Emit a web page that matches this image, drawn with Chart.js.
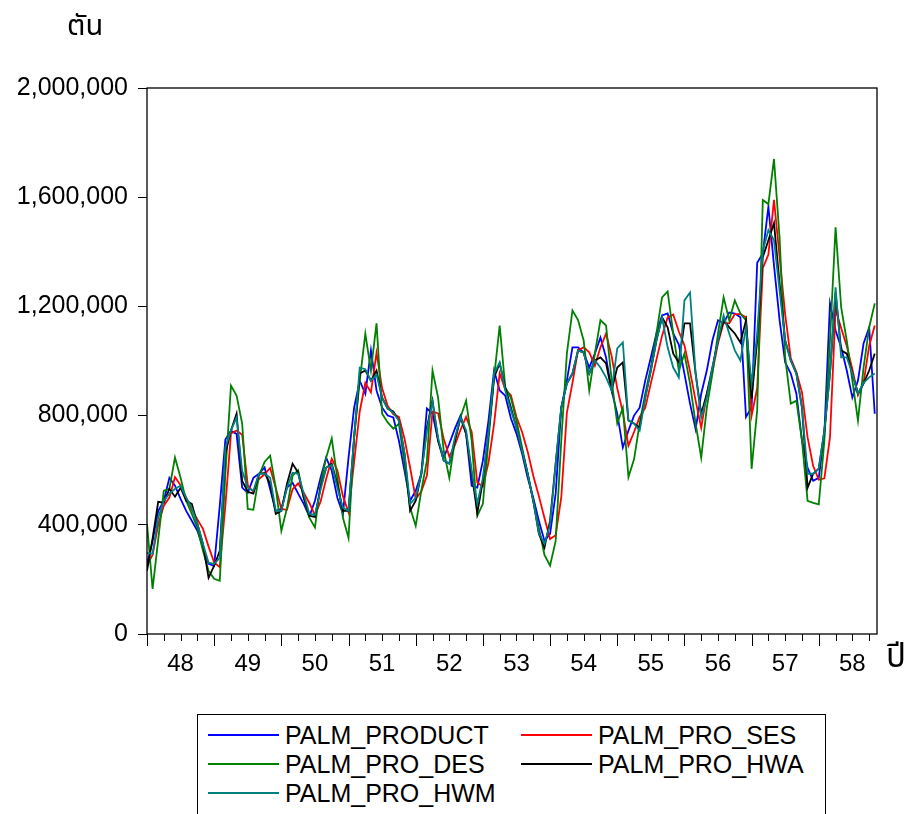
<!DOCTYPE html>
<html>
<head>
<meta charset="utf-8">
<script src="https://cdn.jsdelivr.net/npm/chart.js@4.4.1/dist/chart.umd.min.js"></script>
<style>
  html, body { margin: 0; padding: 0; background: #fff; }
  body { width: 915px; height: 814px; overflow: hidden; position: relative; font-family: Arial, "Liberation Sans", sans-serif; }
  canvas { position: absolute; left: 0; top: 0; }
  .unit { position: absolute; color: #000; font-family: "Noto Sans Thai", "Tahoma", "DejaVu Sans", "Noto Sans", sans-serif; line-height: 1; }
  #legend { position: absolute; left: 197px; top: 714px; width: 629px; height: 120px; border: 1px solid #000; box-sizing: border-box; background: #fff; }
  .item { position: absolute; height: 28px; }
  .item .ln { position: absolute; top: 12px; width: 71px; height: 0; border-top: 2px solid; }
  .item .tx { position: absolute; left: 77px; top: -1px; font-size: 25px; line-height: 28px; white-space: nowrap; color: #000; }
</style>
</head>
<body>
<canvas id="c" width="915" height="814"></canvas>
<div class="unit" style="left:67px;top:12px;font-size:29px;">ตัน</div>
<div class="unit" style="left:886px;top:641px;font-size:33px;">ปี</div>
<div id="legend"></div>
<script>
// ---- data (monthly, Jan 2548 .. Nov 2558) ----
const yearLabels = ['48','49','50','51','52','53','54','55','56','57','58'];
const yTicks = [0, 400000, 800000, 1200000, 1600000, 2000000];
const seriesNames = ['PALM_PRODUCT','PALM_PRO_SES','PALM_PRO_DES','PALM_PRO_HWA','PALM_PRO_HWM'];

const palmProduct = [
 256000,340000,450000,488000,572000,543000,495000,451000,415000,378000,
 316000,257000,250000,470000,712000,745000,733000,536000,517000,572000,
 587000,610000,530000,451000,458000,536000,554000,514000,477000,430000,
 488000,572000,646000,598000,499000,440000,646000,829000,928000,880000,
 1039000,892000,829000,800000,793000,708000,598000,488000,525000,587000,
 826000,807000,708000,646000,697000,752000,800000,734000,543000,536000,
 635000,782000,965000,892000,873000,790000,734000,661000,572000,499000,
 415000,341000,367000,514000,829000,928000,1050000,1050000,1031000,976000,
 1027000,1086000,1013000,892000,807000,683000,745000,800000,829000,928000,
 1013000,1101000,1167000,1174000,1101000,1060000,954000,844000,750000,880000,
 965000,1075000,1149000,1138000,1178000,1174000,1160000,795000,830000,1360000,
 1394000,1565000,1350000,1150000,995000,954000,880000,708000,609000,561000,
 572000,734000,1211000,1112000,1050000,965000,866000,928000,1064000,1123000,
 807000];

const palmProSes = [
 250000,290000,400000,470000,500000,575000,545000,500000,455000,420000,
 385000,320000,262000,245000,470000,735000,745000,730000,545000,520000,
 568000,585000,608000,535000,458000,455000,530000,552000,518000,480000,
 435000,485000,568000,642000,600000,505000,445000,630000,815000,920000,
 885000,1030000,900000,835000,805000,795000,715000,610000,495000,522000,
 580000,815000,808000,715000,650000,692000,748000,795000,740000,555000,
 540000,628000,770000,955000,895000,875000,795000,740000,668000,580000,
 505000,425000,348000,362000,500000,810000,920000,1040000,1050000,1032000,
 982000,1050000,1100000,1018000,900000,812000,690000,740000,795000,828000,
 918000,1005000,1092000,1160000,1170000,1108000,1058000,962000,855000,755000,
 880000,960000,1065000,1140000,1138000,1172000,1172000,1160000,800000,900000,
 1340000,1390000,1590000,1380000,1170000,1010000,960000,885000,720000,615000,
 565000,570000,720000,1190000,1120000,1055000,970000,875000,920000,1055000,
 1130000];

const palmProDes = [
 404000,165000,345000,525000,532000,646000,572000,488000,440000,389000,
 305000,231000,202000,195000,587000,910000,873000,771000,458000,455000,
 580000,630000,653000,536000,378000,460000,580000,600000,499000,426000,
 390000,550000,646000,716000,572000,426000,352000,720000,928000,1100000,
 965000,1138000,807000,775000,752000,770000,624000,462000,396000,525000,
 635000,965000,866000,672000,572000,708000,793000,855000,708000,433000,
 477000,708000,940000,1130000,903000,865000,782000,683000,587000,488000,
 389000,290000,250000,341000,708000,1027000,1185000,1150000,1075000,892000,
 1027000,1150000,1130000,928000,771000,829000,575000,640000,771000,880000,
 976000,1101000,1233000,1255000,1101000,965000,1027000,917000,771000,646000,
 829000,954000,1101000,1233000,1149000,1222000,1174000,1149000,605000,820000,
 1590000,1575000,1740000,1450000,1013000,844000,855000,708000,488000,480000,
 475000,708000,1075000,1490000,1196000,1075000,928000,782000,976000,1123000,
 1211000];

const palmProHwa = [
 231000,350000,484000,481000,532000,503000,536000,488000,477000,404000,
 330000,206000,250000,305000,661000,745000,807000,561000,521000,514000,
 587000,590000,550000,440000,451000,550000,624000,591000,499000,433000,
 429000,536000,609000,624000,550000,451000,451000,720000,954000,965000,
 928000,965000,866000,825000,815000,782000,661000,451000,488000,587000,
 756000,855000,708000,635000,624000,708000,793000,734000,587000,444000,
 561000,734000,940000,991000,903000,830000,756000,672000,587000,488000,
 367000,316000,415000,624000,829000,917000,954000,1039000,1031000,954000,
 1002000,1013000,991000,892000,976000,995000,782000,771000,756000,866000,
 965000,1075000,1160000,1123000,1027000,995000,1138000,1138000,954000,807000,
 880000,976000,1075000,1149000,1123000,1101000,1068000,1149000,862000,1075000,
 1380000,1442000,1505000,1284000,1075000,1002000,954000,829000,536000,587000,
 606000,745000,954000,1250000,1039000,1027000,954000,880000,917000,965000,
 1027000];

const palmProHwm = [
 297000,294000,426000,488000,514000,532000,543000,499000,462000,404000,
 330000,261000,257000,279000,683000,745000,793000,598000,536000,525000,
 587000,587000,572000,451000,451000,536000,591000,587000,514000,440000,
 436000,528000,609000,620000,536000,462000,451000,720000,976000,970000,
 928000,950000,866000,826000,810000,782000,661000,477000,499000,587000,
 745000,851000,719000,635000,624000,719000,793000,745000,598000,477000,
 572000,734000,954000,995000,892000,820000,756000,672000,587000,488000,
 370000,330000,400000,624000,829000,917000,954000,1039000,1031000,954000,
 1002000,976000,940000,892000,1046000,1068000,782000,770000,745000,866000,
 965000,1075000,1160000,1050000,976000,940000,1222000,1251000,954000,793000,
 866000,976000,1075000,1167000,1101000,1039000,1002000,1123000,917000,1100000,
 1405000,1479000,1442000,1259000,1075000,1002000,954000,829000,587000,587000,
 606000,745000,954000,1270000,1013000,1013000,954000,880000,920000,940000,
 954000];

const seriesValues = [palmProduct, palmProSes, palmProDes, palmProHwa, palmProHwm];
const seriesColors = ['#0000ff', '#ff0000', '#008000', '#000000', '#008080'];
const drawOrder = [4, 3, 2, 1, 0];

// ---- chart ----
Chart.defaults.font.family = 'Arial, "Liberation Sans", sans-serif';
Chart.defaults.color = '#000';

const toPoints = arr => arr.map((v, i) => ({ x: i, y: v }));

const frameAndTicks = {
  id: 'frameAndTicks',
  afterDraw(chart) {
    const { ctx, chartArea: a, scales } = chart;
    const xs = scales.x;
    ctx.save();
    ctx.strokeStyle = '#000';
    ctx.lineWidth = 1.3;
    ctx.strokeRect(a.left, a.top, a.right - a.left, a.bottom - a.top);
    ctx.beginPath();
    for (let m = 0; m <= 130; m += 3) {
      const px = Math.round(xs.getPixelForValue(m)) + 0.5;
      const len = (m % 12 === 0) ? 12 : 7;
      ctx.moveTo(px, a.bottom);
      ctx.lineTo(px, a.bottom + len);
    }
    ctx.lineWidth = 1;
    ctx.stroke();
    ctx.restore();
  }
};

new Chart(document.getElementById('c'), {
  type: 'line',
  data: {
    datasets: seriesNames.map((name, k) => ({
      label: name,
      data: toPoints(seriesValues[k]),
      borderColor: seriesColors[k],
      backgroundColor: seriesColors[k],
      borderWidth: 1.8,
      pointRadius: 0,
      tension: 0,
      fill: false,
      order: drawOrder[k]
    }))
  },
  options: {
    responsive: false,
    animation: false,
    devicePixelRatio: 1,
    layout: { padding: { left: 0, top: 88, right: 38, bottom: 0 } },
    plugins: { legend: { display: false }, tooltip: { enabled: false } },
    scales: {
      x: {
        type: 'linear',
        min: 0,
        max: 130.4,
        afterFit: s => { s.height = 180; },
        afterBuildTicks: s => { s.ticks = yearLabels.map((l, i) => ({ value: 6 + 12 * i })); },
        grid: { display: false, drawTicks: false },
        border: { display: false },
        ticks: {
          autoSkip: false,
          maxRotation: 0,
          padding: 16,
          font: { size: 24 },
          color: '#000',
          callback: (v) => yearLabels[Math.round((v - 6) / 12)]
        }
      },
      y: {
        min: 0,
        max: 2000000,
        afterFit: s => { s.width = 147; },
        afterBuildTicks: s => { s.ticks = yTicks.map(v => ({ value: v })); },
        grid: { display: true, drawOnChartArea: false, drawTicks: true, tickLength: 9, color: '#000', lineWidth: 1 },
        border: { display: false },
        ticks: {
          padding: 10,
          font: { size: 25 },
          color: '#000',
          callback: v => v.toLocaleString('en-US')
        }
      }
    }
  },
  plugins: [frameAndTicks]
});

// ---- legend (HTML) ----
const legend = document.getElementById('legend');
const legendPos = [[10, 7], [323, 7], [10, 36], [323, 36], [10, 65]];
seriesNames.forEach((name, k) => {
  const it = document.createElement('div');
  it.className = 'item';
  it.style.left = legendPos[k][0] + 'px';
  it.style.top = legendPos[k][1] + 'px';
  it.innerHTML = '<div class="ln" style="border-color:' + seriesColors[k] + '"></div><div class="tx">' + name + '</div>';
  legend.appendChild(it);
});
</script>
</body>
</html>
